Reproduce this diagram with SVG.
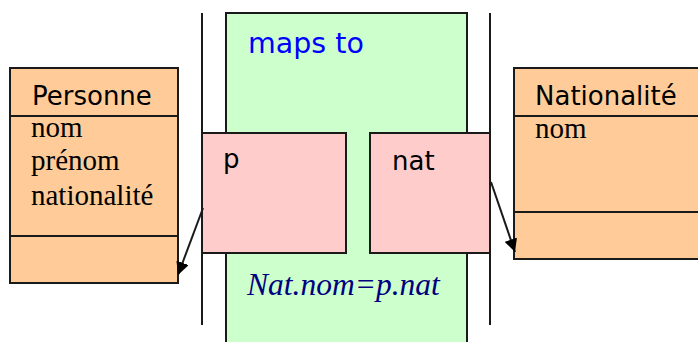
<svg xmlns="http://www.w3.org/2000/svg" width="698" height="342" viewBox="0 0 698 342">
<defs>
<style>
.box{stroke:#1a1a1a;stroke-width:2}
.orange{fill:#FFCC99}
.pink{fill:#FFCCCC}
.green{fill:#CCFFCC}
.sans{font-family:"DejaVu Sans","Verdana",sans-serif;fill:#000}
.serif{font-family:"Liberation Serif","Times New Roman",serif;fill:#000;font-size:29px}
.ln{stroke:#1a1a1a;stroke-width:2;fill:none}
</style>
<marker id="ah" viewBox="0 0 10 10" refX="10" refY="5" markerWidth="13" markerHeight="13" markerUnits="userSpaceOnUse" orient="auto">
<path d="M0,0 L10,5 L0,10 z" fill="#000"/>
</marker>
</defs>
<rect width="698" height="342" fill="#fff"/>
<g id="maps-to">
<rect class="box green" x="226" y="13" width="241" height="340"/>
<text x="248" y="53" font-family="DejaVu Sans, Verdana, sans-serif" font-size="28.5" fill="#0000FF">maps to</text>
<text x="247" y="295" font-family="Liberation Serif, Times New Roman, serif" font-style="italic" font-size="31.5" fill="#000080">Nat.nom=p.nat</text>
</g>
<g id="guides">
<line class="ln" x1="202" y1="13" x2="202" y2="325"/>
<line class="ln" x1="490" y1="13" x2="490" y2="325"/>
</g>
<g id="p">
<rect class="box pink" x="202" y="133" width="144" height="120"/>
<text class="sans" x="223" y="168" font-size="26">p</text>
</g>
<g id="nat">
<rect class="box pink" x="370" y="133" width="120" height="120"/>
<text class="sans" x="392" y="170" font-size="26">nat</text>
</g>
<g id="personne">
<rect class="box orange" x="10" y="68" width="168" height="215"/>
<line class="ln" x1="10" y1="116" x2="178" y2="116"/>
<line class="ln" x1="10" y1="236" x2="178" y2="236"/>
<text class="sans" x="32" y="105" font-size="26">Personne</text>
<text class="serif" x="31" y="137">nom</text>
<text class="serif" x="31" y="170">prénom</text>
<text class="serif" x="31" y="205">nationalité</text>
</g>
<g id="nationalite">
<rect class="box orange" x="514" y="68" width="190" height="191"/>
<line class="ln" x1="514" y1="116" x2="698" y2="116"/>
<line class="ln" x1="514" y1="212" x2="698" y2="212"/>
<text class="sans" x="535" y="105" font-size="26">Nationalité</text>
<text class="serif" x="535" y="138">nom</text>
</g>
<g id="connectors">
<line class="ln" x1="203" y1="208" x2="178" y2="275" marker-end="url(#ah)"/>
<line class="ln" x1="491" y1="182" x2="515" y2="252" marker-end="url(#ah)"/>
</g>
</svg>
